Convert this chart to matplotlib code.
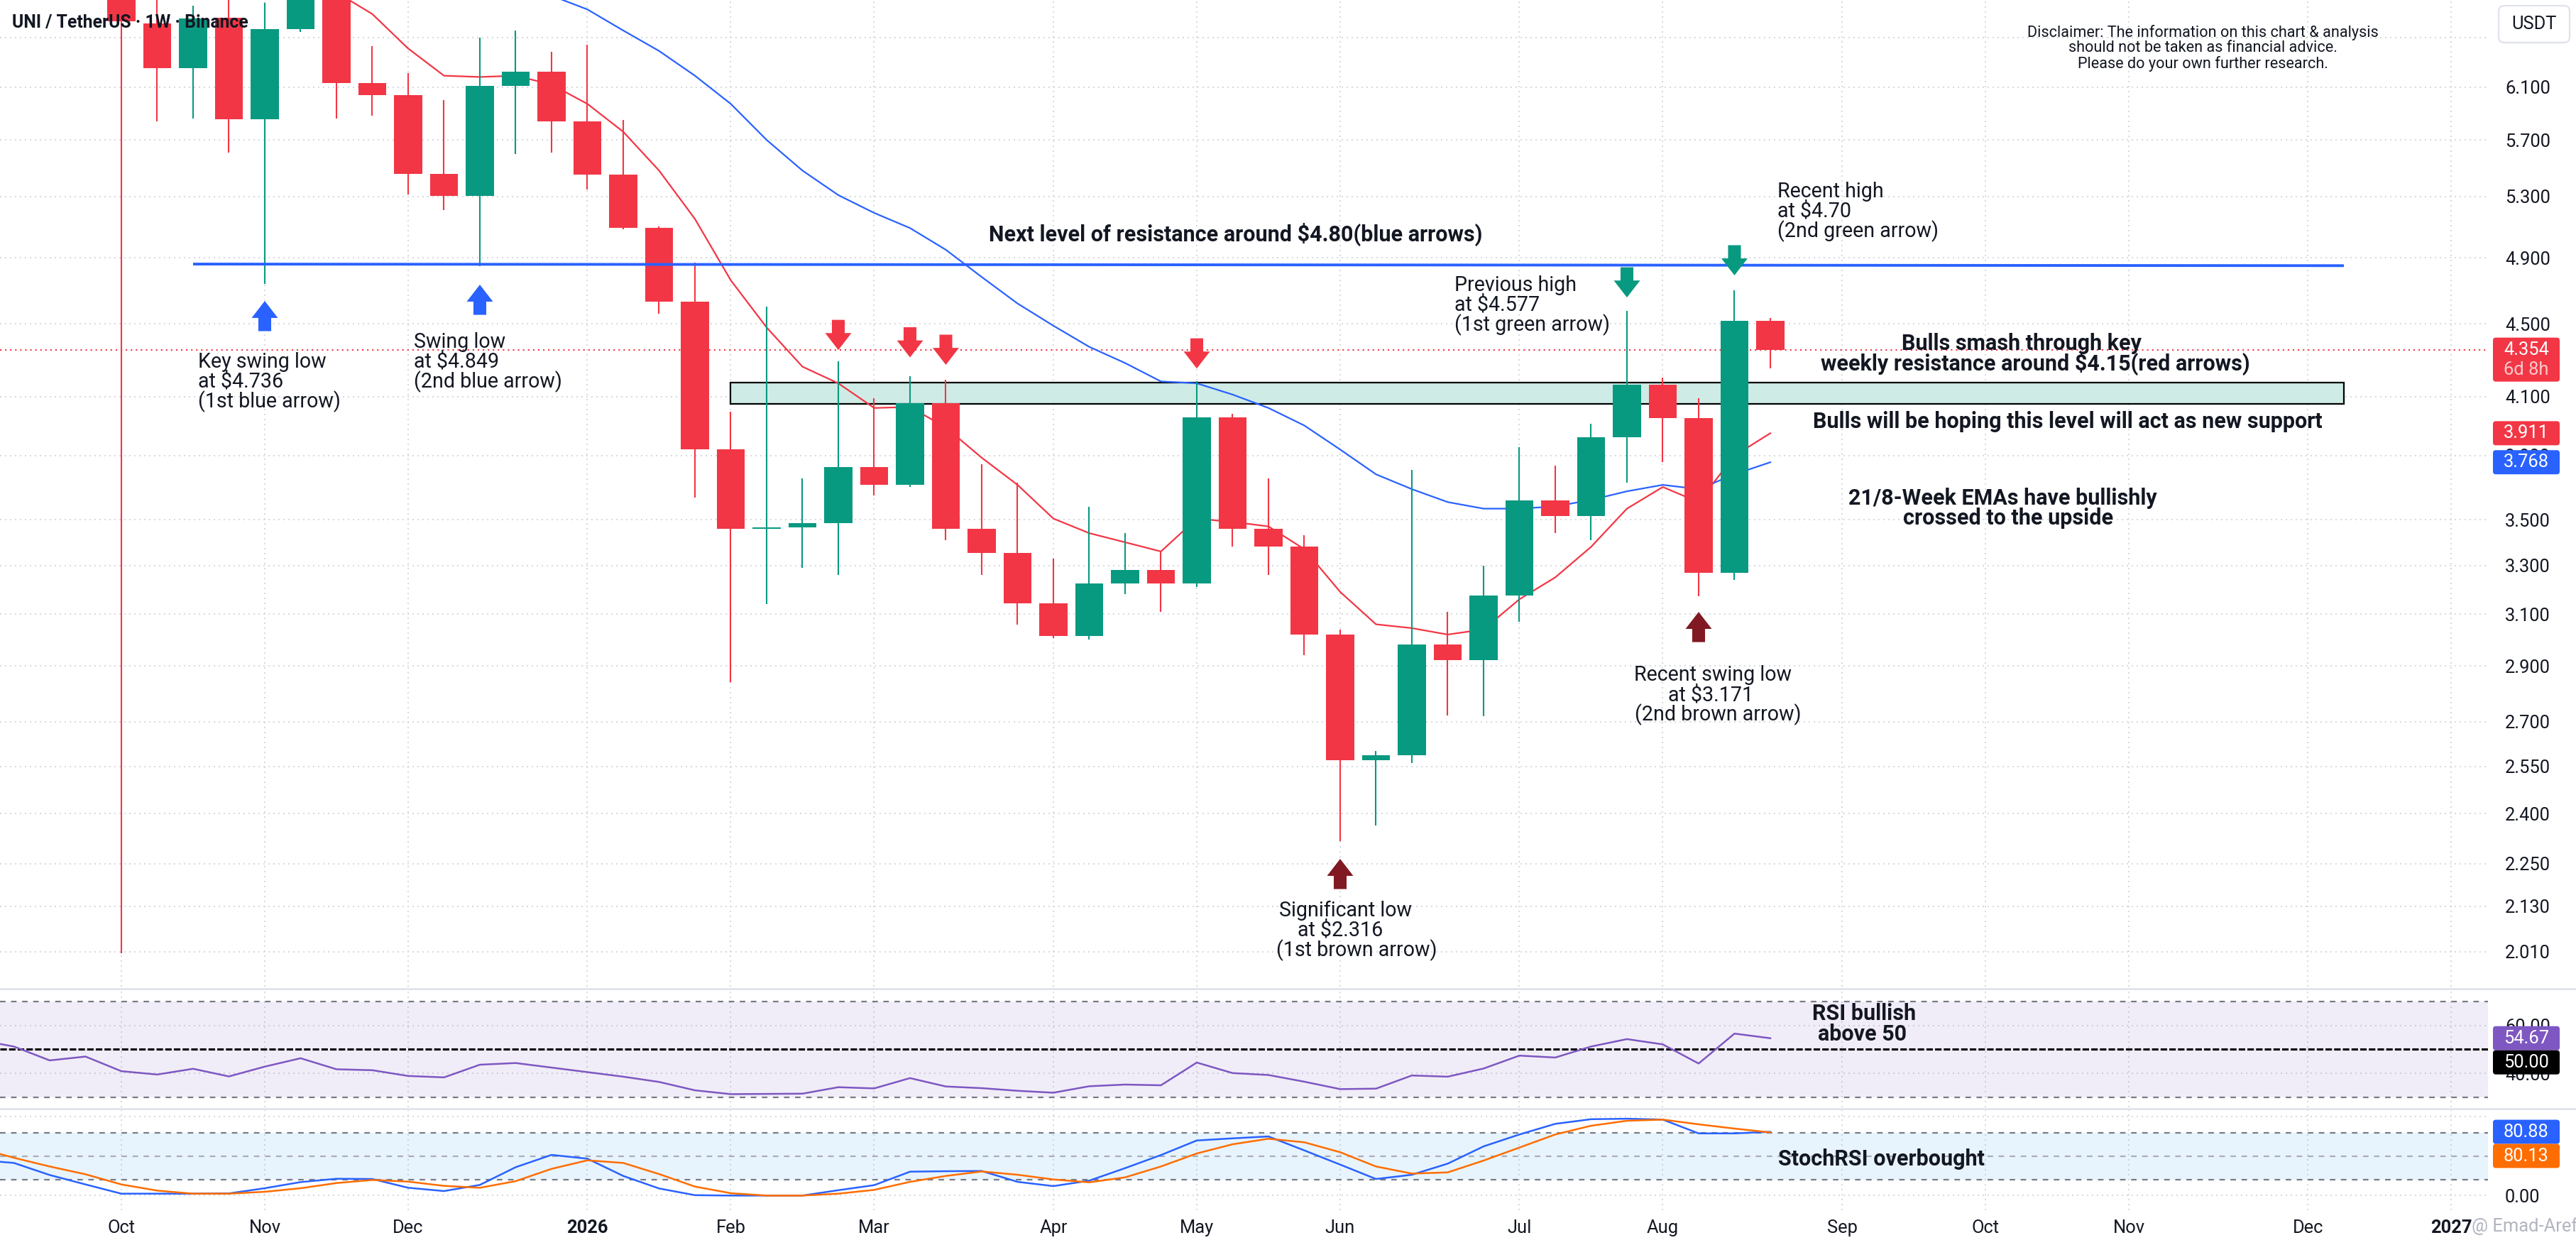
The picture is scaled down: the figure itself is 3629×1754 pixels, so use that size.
import matplotlib
matplotlib.use("Agg")
import matplotlib.pyplot as plt
import matplotlib.dates as mdates
from matplotlib.patches import Rectangle, FancyBboxPatch
from matplotlib.lines import Line2D
from matplotlib.transforms import IdentityTransform
from matplotlib.ticker import FixedLocator, FuncFormatter, NullLocator, FormatStrFormatter
import pandas as pd

plt.rcParams['font.family'] = ['Roboto', 'DejaVu Sans']

W, H, DPI = 3630, 1754, 200
GREEN, RED, BLUE, ORANGE, PURPLE, BROWN = "#089981", "#F23645", "#2962FF", "#FF6D00", "#7E57C2", "#801922"
INK = "#131722"
AXIS_FS = 9.2

# weekly candles, first one is the week of 2025-10-06
candle_start = "2025-10-06"
opens = [7.80, 6.62, 6.25, 6.67, 5.855, 6.57, 7.05, 6.13, 6.04, 5.457, 5.305, 6.11, 6.22, 5.84, 5.45,
         5.09, 4.63, 3.83, 3.46, 3.465, 3.485, 3.744, 3.66, 4.066, 3.46, 3.354, 3.144, 3.014, 3.226,
         3.282, 3.226, 3.99, 3.46, 3.38, 3.02, 2.569, 2.587, 2.981, 2.922, 3.175, 3.588, 3.515, 3.89,
         4.163, 3.987, 3.27, 4.52]
highs = [8.10, 7.00, 6.77, 6.95, 6.80, 7.20, 7.20, 6.43, 6.21, 6.00, 6.50, 6.56, 6.38, 6.44, 5.85,
         5.10, 4.87, 4.02, 4.60, 3.69, 4.29, 4.09, 4.21, 4.19, 3.76, 3.67, 3.33, 3.56, 3.44,
         3.36, 4.18, 4.01, 3.69, 3.43, 3.04, 2.60, 3.73, 3.11, 3.30, 3.84, 3.75, 3.96, 4.577,
         4.20, 4.09, 4.70, 4.535]
lows = [2.006, 5.84, 5.86, 5.61, 4.736, 6.55, 5.86, 5.88, 5.314, 5.21, 4.849, 5.60, 5.61, 5.35, 5.08,
        4.56, 3.60, 2.84, 3.14, 3.29, 3.26, 3.61, 3.65, 3.41, 3.26, 3.06, 3.007, 3.00, 3.18,
        3.11, 3.21, 3.38, 3.26, 2.94, 2.316, 2.363, 2.56, 2.722, 2.72, 3.07, 3.44, 3.41, 3.67,
        3.77, 3.171, 3.24, 4.25]
closes = [6.64, 6.25, 6.66, 5.855, 6.57, 7.05, 6.13, 6.04, 5.457, 5.305, 6.11, 6.22, 5.84, 5.45, 5.09,
          4.63, 3.83, 3.46, 3.465, 3.485, 3.744, 3.66, 4.066, 3.46, 3.354, 3.144, 3.014, 3.226, 3.282,
          3.226, 3.99, 3.46, 3.38, 3.02, 2.569, 2.587, 2.981, 2.922, 3.175, 3.588, 3.515, 3.89, 4.163,
          3.987, 3.27, 4.52, 4.354]

# 8-week EMA (red) from week of 2025-11-10, 21-week EMA (blue) from week of 2025-12-22
ema8_start = "2025-11-10"
ema8 = [7.02, 6.89, 6.70, 6.41, 6.19, 6.18, 6.19, 6.12, 5.97, 5.76, 5.48, 5.15, 4.76, 4.48, 4.26,
        4.17, 4.04, 4.045, 3.94, 3.79, 3.66, 3.505, 3.44, 3.40, 3.36, 3.505, 3.49, 3.47, 3.37, 3.19,
        3.06, 3.045, 3.02, 3.04, 3.16, 3.25, 3.38, 3.55, 3.65, 3.58, 3.80, 3.911]
ema21_start = "2025-12-22"
ema21 = [6.98, 6.86, 6.74, 6.56, 6.39, 6.19, 5.97, 5.70, 5.48, 5.31, 5.19, 5.09, 4.95, 4.78, 4.62,
         4.49, 4.37, 4.28, 4.18, 4.17, 4.11, 4.04, 3.95, 3.83, 3.71, 3.64, 3.58, 3.55, 3.55, 3.56,
         3.59, 3.63, 3.66, 3.64, 3.71, 3.768]

# oscillators, first value is the week of 2025-09-08
osc_start = "2025-09-08"
rsi = [54.0, 51.2, 45.4, 47.0, 40.9, 39.5, 41.9, 38.7, 42.8, 46.3, 41.7, 41.3, 38.9, 38.3, 43.6,
       44.3, 42.4, 40.5, 38.6, 36.4, 32.9, 31.3, 31.4, 31.5, 34.2, 33.7, 38.0, 34.5, 33.8, 32.7,
       31.9, 34.6, 35.3, 35.0, 44.5, 40.1, 39.3, 36.5, 33.4, 33.6, 39.1, 38.6, 42.0, 47.4, 46.6,
       51.2, 54.3, 52.1, 44.1, 56.6, 54.67]
stoch_k = [45.2, 41.4, 26.1, 14.1, 2.4, 2.4, 2.4, 2.7, 9.3, 17.1, 21.3, 21.0, 9.9, 5.7, 13.5,
           36.0, 51.6, 46.8, 24.9, 9.0, 0.5, 0.0, 0.0, 0.0, 6.8, 13.2, 30.3, 30.9, 31.2, 17.4,
           12.0, 18.9, 34.8, 51.4, 69.9, 72.6, 75.0, 57.3, 39.3, 21.0, 26.4, 40.5, 62.4, 77.5, 91.0,
           96.9, 97.5, 96.4, 78.9, 78.9, 80.88]
stoch_d = [60.3, 48.0, 36.9, 27.0, 14.1, 6.3, 2.4, 2.4, 4.8, 9.3, 15.9, 19.8, 17.7, 12.3, 9.9,
           18.3, 33.9, 44.7, 41.4, 27.3, 11.4, 3.0, 0.0, 0.0, 2.4, 7.2, 17.4, 24.9, 30.6, 26.4,
           20.4, 16.8, 23.1, 36.9, 53.4, 65.1, 72.1, 67.6, 55.0, 36.9, 27.9, 29.4, 44.4, 60.9, 77.5,
           88.6, 94.9, 96.4, 90.4, 85.0, 80.13]

price_ticks = [6.5, 6.1, 5.7, 5.3, 4.9, 4.5, 4.1, 3.8, 3.5, 3.3, 3.1, 2.9, 2.7, 2.55, 2.4, 2.25, 2.13, 2.01]
hidden_tick = 6.5   # label sits under the USDT badge
last_price = 4.354

# drawings
resistance_dates = ["2025-10-20", "2026-12-14"]
resistance_prices = [4.86, 4.85]
zone_dates = ["2026-02-02", "2026-12-14"]
zone_low, zone_high = 4.06, 4.175
blue_up = [("2025-11-03", 4.635), ("2025-12-15", 4.733)]
red_down = [("2026-02-23", 4.352), ("2026-03-09", 4.311), ("2026-03-16", 4.27), ("2026-05-04", 4.25)]
green_down = [("2026-07-27", 4.656), ("2026-08-17", 4.79)]
brown_up = [("2026-06-01", 2.264), ("2026-08-10", 3.109)]


def num(d):
    return mdates.date2num(pd.Timestamp(d))


def weekly(start, n):
    return mdates.date2num(pd.date_range(start, periods=n, freq="7D"))


fig = plt.figure(figsize=(W / DPI, H / DPI), dpi=DPI)
fig.patch.set_facecolor("white")


def box(left, top, right, bottom):
    return [left / W, 1 - bottom / H, (right - left) / W, (bottom - top) / H]


def put(x, y, s, **kw):
    kw.setdefault("color", INK)
    return fig.text(x / W, 1 - y / H, s, **kw)


ax = fig.add_axes(box(0, 0, 3505, 1390))
ax_rsi = fig.add_axes(box(0, 1395, 3505, 1560))
ax_st = fig.add_axes(box(0, 1564, 3505, 1705))

base = num(candle_start)
months = pd.date_range("2025-10-01", "2027-01-31", freq="WOM-1MON")
month_nums = mdates.date2num(months)
grid_kw = dict(color="#D5D8DE", lw=0.7, ls=(0, (1, 2.6)))

for a in (ax, ax_rsi, ax_st):
    for s in a.spines.values():
        s.set_visible(False)
    a.set_xlim(base - 3.386 * 7, base + 66.02 * 7)
    a.set_xticks(month_nums)
    a.yaxis.tick_right()
    a.tick_params(axis="y", length=0, pad=8.6, labelsize=AXIS_FS, labelcolor=INK)
    a.tick_params(axis="x", length=0, labelbottom=False)
    a.grid(True, **grid_kw)
    a.set_axisbelow(True)

# ---- price pane ----
ax.set_yscale("log")
ax.set_ylim(1.9215, 6.822)
ax.yaxis.set_major_locator(FixedLocator(price_ticks))
ax.yaxis.set_minor_locator(NullLocator())
ax.yaxis.set_major_formatter(FuncFormatter(lambda v, p: "" if abs(v - hidden_tick) < 1e-9 else f"{v:.3f}"))

cd = weekly(candle_start, len(opens))
cols = [GREEN if c >= o else RED for o, c in zip(opens, closes)]
bottoms = [min(o, c) for o, c in zip(opens, closes)]
heights = [max(abs(c - o), 0.006) for o, c in zip(opens, closes)]
ax.vlines(cd, lows, highs, colors=cols, lw=0.75, zorder=3)
ax.bar(cd, heights, bottom=bottoms, width=5.5, color=cols, lw=0, zorder=4)

ax.plot(weekly(ema8_start, len(ema8)), ema8, color=RED, lw=0.8, zorder=2)
ax.plot(weekly(ema21_start, len(ema21)), ema21, color=BLUE, lw=0.8, zorder=2)

ax.add_patch(Rectangle((num(zone_dates[0]), zone_low), num(zone_dates[1]) - num(zone_dates[0]),
                       zone_high - zone_low, fc="#CEEBE6", ec="black", lw=0.8, zorder=1.5))
ax.plot([num(d) for d in resistance_dates], resistance_prices, color=BLUE, lw=1.4,
        solid_capstyle="butt", zorder=6)
ax.axhline(last_price, color=RED, lw=0.75, ls=(0, (1, 2.4)), zorder=1.8)

arrow_style = "simple,head_length=8.6,head_width=13.3,tail_width=6.5"
for group, color, up in ((blue_up, BLUE, True), (red_down, RED, False),
                         (green_down, GREEN, False), (brown_up, BROWN, True)):
    for d, p in group:
        ax.annotate("", xy=(num(d), p), xytext=(0, -15.3 if up else 15.3), textcoords="offset points",
                    arrowprops=dict(arrowstyle=arrow_style, mutation_scale=1, fc=color, ec="none",
                                    shrinkA=0, shrinkB=0), zorder=7)

# ---- RSI pane ----
od = weekly(osc_start, len(rsi))
ax_rsi.set_ylim(25.8, 74.75)
ax_rsi.set_yticks([40, 60])
ax_rsi.yaxis.set_major_formatter(FormatStrFormatter("%.2f"))
ax_rsi.axhspan(30, 70, color=PURPLE, alpha=0.1, lw=0)
for v in (70, 30):
    ax_rsi.axhline(v, color="#787B86", lw=0.8, ls=(0, (3.5, 3.5)))
ax_rsi.axhline(50, color="black", lw=1.1, ls=(0, (3, 1)))
ax_rsi.plot(od, rsi, color=PURPLE, lw=0.9)

# ---- Stoch RSI pane ----
ax_st.set_ylim(-18.6, 108.4)
ax_st.set_yticks([0, 100])
ax_st.yaxis.set_major_formatter(FuncFormatter(lambda v, p: "0.00" if v == 0 else ""))
ax_st.axhspan(20, 80, color="#2196F3", alpha=0.1, lw=0)
for v in (80, 20):
    ax_st.axhline(v, color="#787B86", lw=0.8, ls=(0, (3.5, 3.5)))
ax_st.axhline(50, color="#A9ACB5", lw=0.8, ls=(0, (3.5, 3.5)))
ax_st.plot(od, stoch_k, color=BLUE, lw=0.9)
ax_st.plot(od, stoch_d, color=ORANGE, lw=0.9)

ax_st.tick_params(axis="x", labelbottom=True, pad=4.6, labelsize=AXIS_FS, labelcolor=INK)
ax_st.set_xticklabels([str(m.year) if m.month == 1 else m.strftime("%b") for m in months])
for lab, m in zip(ax_st.get_xticklabels(), months):
    if m.month == 1:
        lab.set_fontweight("bold")

# pane separators
for y in (1393, 1562):
    fig.add_artist(Line2D([0, 1], [1 - y / H] * 2, color="#E0E3EB", lw=1.0, transform=fig.transFigure))


# ---- value tags on the right scale ----
def tag(axis, value, rows, face, min_top=None):
    yc = H - axis.transData.transform((0, value))[1]
    if min_top is not None and yc - 17 < min_top:
        yc = min_top + 17
    top = yc - 17
    bottom = yc + 28 * (len(rows) - 1) + 17
    fig.add_artist(FancyBboxPatch((3512, H - bottom), 94, bottom - top,
                                  boxstyle="round,pad=0,rounding_size=4", transform=IdentityTransform(),
                                  fc=face, ec="none", zorder=5))
    for i, (s, c) in enumerate(rows):
        put(3559, yc + 28 * i, s, color=c, ha="center", va="center", size=AXIS_FS, zorder=6)
    return bottom


tag(ax, last_price, [("4.354", "white"), ("6d 8h", "#FCCBCD")], RED)
tag(ax, ema8[-1], [("3.911", "white")], RED)
tag(ax, ema21[-1], [("3.768", "white")], BLUE)
b = tag(ax_rsi, rsi[-1], [("54.67", "white")], PURPLE)
tag(ax_rsi, 50, [("50.00", "white")], "black", min_top=b)
b = tag(ax_st, stoch_k[-1], [("80.88", "white")], BLUE)
tag(ax_st, stoch_d[-1], [("80.13", "white")], ORANGE, min_top=b)

fig.add_artist(FancyBboxPatch((3520, H - 60), 100, 52, boxstyle="round,pad=0,rounding_size=8",
                              transform=IdentityTransform(), fc="white", ec="#E0E3EB", lw=0.8, zorder=5))
put(3570, 34, "USDT", ha="center", va="center", size=AXIS_FS, zorder=6)

# ---- texts ----
put(17, 32.5, "UNI / TetherUS · 1W · Binance", va="center", size=8.9, weight="bold")
for i, s in enumerate(["Disclaimer: The information on this chart & analysis",
                       "should not be taken as financial advice.",
                       "Please do your own further research."]):
    put(3103, 45.6 + 22 * i, s, ha="center", va="center", size=7.8)

reg = dict(va="center", size=10.3)
for x, y0, block in ((279, 510, ["Key swing low", "at $4.736", "(1st blue arrow)"]),
                     (583, 482, ["Swing low", "at $4.849", "(2nd blue arrow)"]),
                     (2049, 402, ["Previous high", "at $4.577", "(1st green arrow)"]),
                     (2504, 270, ["Recent high", "at $4.70", "(2nd green arrow)"])):
    for i, s in enumerate(block):
        put(x, y0 + 28 * i, s, ha="left", **reg)

for xs, y0, block in (((1896, 1888, 1911), 1282.5, ["Significant low", "at $2.316", "(1st brown arrow)"]),
                      ((2413, 2410, 2420), 951, ["Recent swing low", "at $3.171", "(2nd brown arrow)"])):
    for i, s in enumerate(block):
        put(xs[i], y0 + 28 * i, s, ha="center", **reg)

bold = dict(va="center", ha="center", size=11, weight="bold")
put(1741, 330, "Next level of resistance around $4.80(blue arrows)", **bold)
put(2848, 484, "Bulls smash through key", **bold)
put(2867, 512, "weekly resistance around $4.15(red arrows)", **bold)
put(2913, 594, "Bulls will be hoping this level will act as new support", **bold)
put(2821, 702, "21/8-Week EMAs have bullishly", **bold)
put(2829, 730, "crossed to the upside", **bold)
put(2626, 1428, "RSI bullish", **bold)
put(2624, 1457, "above 50", **bold)
put(2650, 1633, "StochRSI overbought", **bold)

put(3482, 1728, "@ Emad-Aref", va="center", size=AXIS_FS, color="#B2B5BE")

fig.savefig("out.png", dpi=DPI, facecolor="white")
